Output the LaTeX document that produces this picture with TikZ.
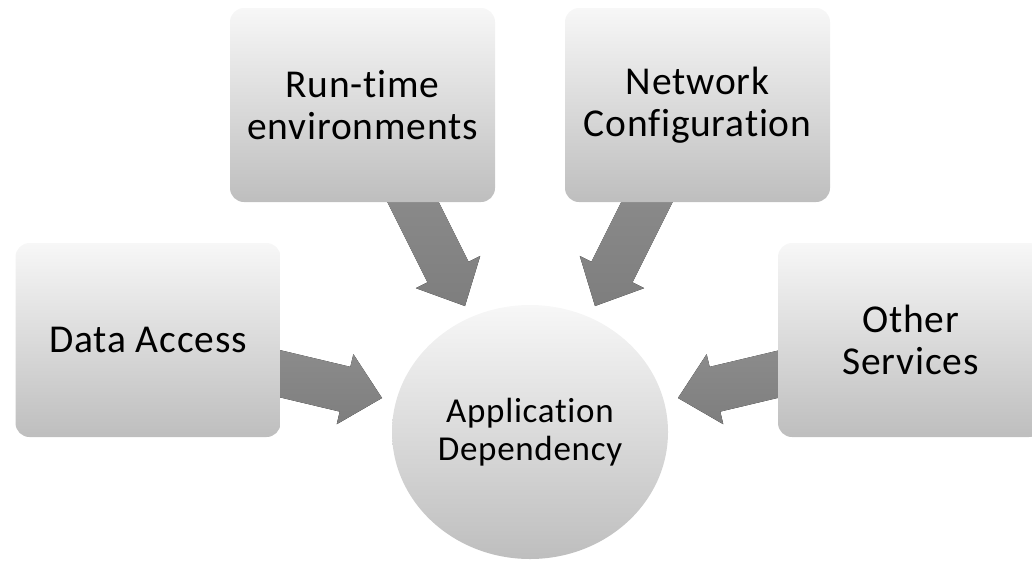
\documentclass[tikz,border=0pt]{standalone}
\usepackage{fontspec}
\setmainfont{Carlito}[Ligatures=CommonOff,LetterSpace=2]
\usetikzlibrary{calc,shapes.geometric}

\definecolor{boxtop}{HTML}{F7F7F7}
\definecolor{boxmid}{HTML}{E4E4E4}
\definecolor{boxbot}{HTML}{BEBEBE}
\definecolor{arrtop}{HTML}{8C8C8C}
\definecolor{arrbot}{HTML}{7E7E7E}

% block arrow from tail #1 to tip #2
\def\shaft{23pt}
\def\head{36pt}
\def\headlen{38pt}
\newcommand{\blockarrow}[2]{%
  \path (#1) coordinate (T) (#2) coordinate (H);
  \coordinate (B) at ($(H)!\headlen!(T)$);
  \fill[arrowfill] ($(T)!\shaft!90:(H)$) -- ($(B)!\shaft!-90:(T)$) -- ($(B)!\head!-90:(T)$) -- (H)
    -- ($(B)!\head!90:(T)$) -- ($(B)!\shaft!90:(T)$) -- ($(T)!\shaft!-90:(H)$) -- cycle;}

\begin{document}
\begin{tikzpicture}
[x=1pt,y=-1pt,
 box/.style={rounded corners=14pt,minimum width=265pt,minimum height=194pt,top color=boxtop,middle color=boxmid,bottom color=boxbot,align=center,font=\fontsize{39.5}{42}\selectfont},
 hub/.style={ellipse,minimum width=276pt,minimum height=254pt,inner sep=0pt,top color=boxtop,middle color=boxmid,bottom color=boxbot,align=center,font=\fontsize{35}{38}\selectfont},
 arrowfill/.style={top color=arrtop,bottom color=arrbot}]
\useasboundingbox (0,0) rectangle (1032,560);
\clip (0,0) rectangle (1032,560);

%Positions
\coordinate (pr) at (362.5,105);
\coordinate (pn) at (697.5,105);
\coordinate (pd) at (148,340);
\coordinate (po) at (910.5,340);
\coordinate (pa) at (530,432);

%Arrow tips
\coordinate (tr) at (465,306);
\coordinate (tn) at (595,306);
\coordinate (td) at (382,398);
\coordinate (to) at (678,398);

%Arrows (under the boxes)
\blockarrow{$(pr)+(41.5,79)$}{tr}
\blockarrow{$(pn)+(-41.5,79)$}{tn}
\blockarrow{$(pd)+(112,29)$}{td}
\blockarrow{$(po)+(-110.5,29)$}{to}

%Boxes
\node (run) at (pr)[box] {Run-time\\environments};
\node (net) at (pn)[box] {Network\\Configuration};
\node (data) at (pd)[box] {Data Access};
\node (other) at (po)[box] {Other\\Services};

%Centre
\node (app) at (pa)[hub] {Application\\Dependency};
\end{tikzpicture}
\end{document}
